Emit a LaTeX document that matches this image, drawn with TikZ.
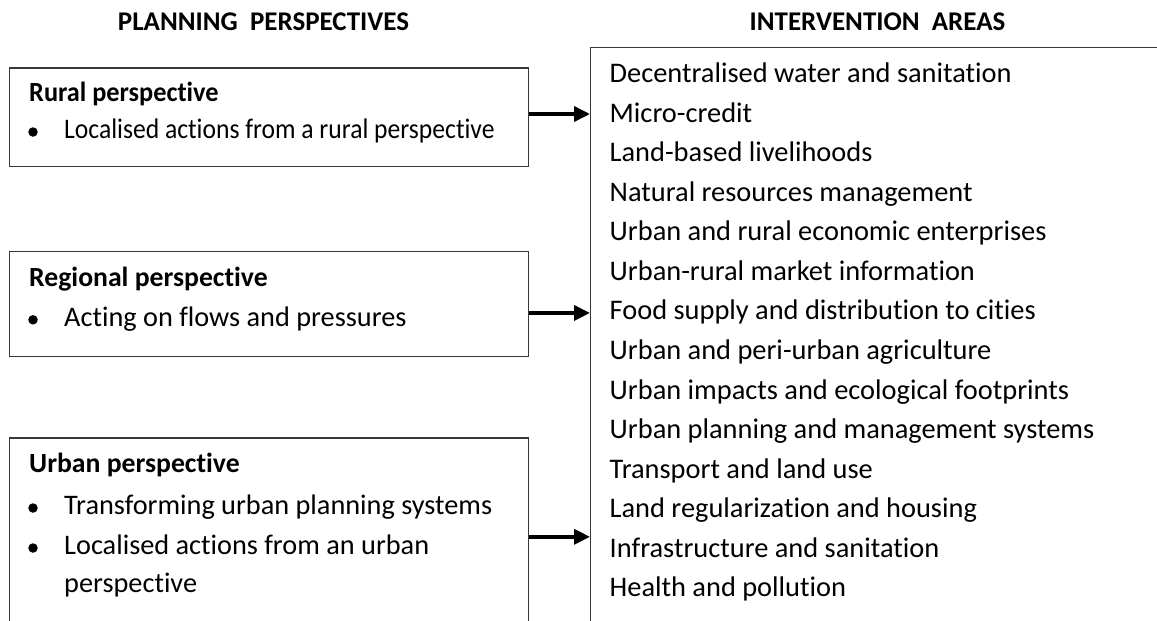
\documentclass[tikz,border=0pt]{standalone}
\usepackage{fontspec}
\setmainfont[Ligatures={NoCommon}]{Carlito}
\usetikzlibrary{arrows.meta}
\tikzset{
  box/.style={draw=black!78, line width=1.3pt, anchor=north west, inner sep=0pt, minimum width=519pt},
  ltxt/.style={anchor=base west, inner sep=0pt, font=\fontsize{28.3}{32}\selectfont},
  rtxt/.style={anchor=base west, inner sep=0pt, font=\fontsize{28.4}{32}\selectfont},
  hd/.style={anchor=base west, inner sep=0pt, font=\fontsize{27.7}{32}\selectfont\bfseries},
  ttl/.style={anchor=base, inner sep=0pt, font=\fontsize{27}{32}\selectfont\bfseries},
  bul/.style={circle, fill=black, inner sep=0pt, minimum size=9.5pt},
  conn/.style={-{Triangle[length=16pt,width=15pt]}, line width=3.6pt}
}
\begin{document}
\begin{tikzpicture}[x=1pt,y=-1pt]
\useasboundingbox (0,0) rectangle (1157,621);
\begin{scope}
\clip (0,0) rectangle (1157,621);
% titles
\node[ttl] (tl) at (263.5,30) {PLANNING\ \ PERSPECTIVES};
\node[ttl] (tr) at (877.5,30) {INTERVENTION\ \ AREAS};
% left boxes
\node[box, minimum height=98.7pt] (rural) at (9,67.3) {};
\node[box, minimum height=104.8pt] (regional) at (9,250.7) {};
\node[box, minimum height=197.7pt] (urban) at (9,437.3) {};
% right box
\node[box, minimum width=600pt, minimum height=620pt] (areas) at (590,46.7) {};
% rural text
\node[hd] (rh) at (29,101.7) {\scalebox{0.95}[1]{Rural perspective}};
\node[bul] (rb1) at (33,132) {};
\node[ltxt] (rt1) at (64,138.3) {\scalebox{0.905}[1]{Localised actions from a rural perspective}};
% regional text
\node[hd] (gh) at (29,286) {Regional\ perspective};
\node[bul] (gb1) at (33,319.8) {};
\node[ltxt] (gt1) at (64,326) {Acting on flows and pressures};
% urban text
\node[hd] (uh) at (29,472.7) {Urban perspective};
\node[bul] (ub1) at (33,508) {};
\node[ltxt] (ut1) at (64,514.3) {Transforming urban planning systems};
\node[bul] (ub2) at (33,548) {};
\node[ltxt] (ut2) at (64,554.3) {Localised actions from an urban};
\node[ltxt] (ut3) at (64,592) {perspective};
% intervention areas
\foreach \t [count=\i from 0] in {Decentralised water and sanitation,Micro-credit,Land-based livelihoods,Natural resources management,Urban and rural economic enterprises,Urban-rural market information,Food supply and distribution to cities,Urban and peri-urban agriculture,Urban impacts and ecological footprints,Urban planning and management systems,Transport and land use,Land regularization and housing,Infrastructure and sanitation,Health and pollution}
  \node[rtxt] (ia\i) at (609.5,82.7+39.54*\i) {\t};
% connectors
\draw[conn] ([yshift=3.3pt]rural.east) -- ([yshift=3.3pt]rural.east -| areas.west);
\draw[conn] ([yshift=-9.2pt]regional.east) -- ([yshift=-9.2pt]regional.east -| areas.west);
\draw[conn] (urban.east) -- (urban.east -| areas.west);
\end{scope}
\end{tikzpicture}
\end{document}
